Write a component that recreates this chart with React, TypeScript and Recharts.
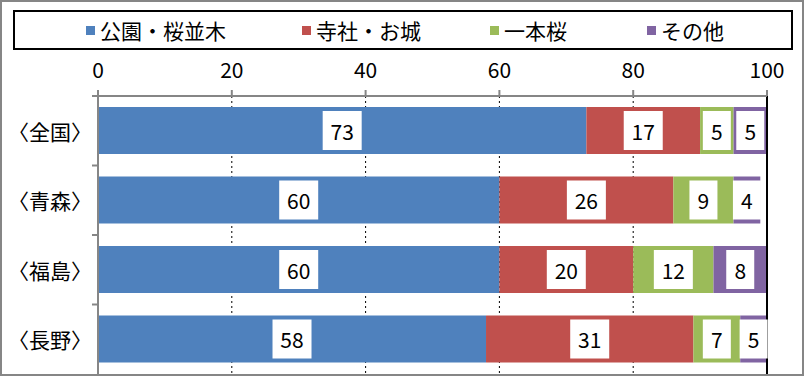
import React from 'react';
import { BarChart, Bar, XAxis, YAxis, CartesianGrid, Legend, LabelList, ReferenceLine } from 'recharts';

// 花見スポットの種類別割合（%）
const regions = ['〈全国〉', '〈青森〉', '〈福島〉', '〈長野〉'];
const parks = [73, 60, 60, 58];
const temples = [17, 26, 20, 31];
const singleTrees = [5, 9, 12, 7];
const others = [5, 4, 8, 5];
const xTicks = [0, 20, 40, 60, 80, 100];

const SERIES = [
  { key: 'parks', name: '公園・桜並木', color: '#4F81BD' },
  { key: 'temples', name: '寺社・お城', color: '#C0504D' },
  { key: 'singleTrees', name: '一本桜', color: '#9BBB59' },
  { key: 'others', name: 'その他', color: '#8064A2' }
];

const data = regions.map((region, i) => ({
  region,
  parks: parks[i],
  temples: temples[i],
  singleTrees: singleTrees[i],
  others: others[i]
}));

const FONT = '"Noto Sans CJK JP", "Noto Sans", sans-serif';
const AXIS_GRAY = '#868686';
const CHART_W = 805;
const CHART_H = 376;
const MARGIN = { top: 56, right: 38, bottom: 2, left: 0 };
const X_AXIS_H = 40;
const BAND = (CHART_H - MARGIN.top - MARGIN.bottom - X_AXIS_H) / regions.length;

// legend square positions (page x)
const LEGEND_X = [86, 302, 490, 647];

const LegendBox = () => (
  <div
    style={{
      position: 'relative',
      width: 780,
      height: 40,
      border: '2px solid #000',
      boxSizing: 'border-box',
      background: '#fff',
      fontFamily: FONT
    }}
  >
    {SERIES.map((s, i) => (
      <div
        key={s.key}
        style={{
          position: 'absolute',
          left: LEGEND_X[i] - 15,
          top: 0,
          height: 36,
          display: 'flex',
          alignItems: 'center'
        }}
      >
        <span style={{ display: 'inline-block', width: 9, height: 9, background: s.color, marginRight: 5 }} />
        <span style={{ fontSize: 21, lineHeight: '36px', color: '#000', whiteSpace: 'nowrap' }}>{s.name}</span>
      </div>
    ))}
  </div>
);

const RegionTick = (props: any) => {
  const { x, y, payload } = props;
  return (
    <g>
      <line x1={x - 6} y1={y - BAND / 2} x2={x} y2={y - BAND / 2} stroke={AXIS_GRAY} strokeWidth={2} />
      <text
        x={x - 6}
        y={y}
        textAnchor="end"
        dominantBaseline="central"
        fontSize={21}
        fontFamily={FONT}
        fill="#000"
      >
        {payload.value}
      </text>
    </g>
  );
};

const BoxLabel = (props: any) => {
  const { x, y, width, height, value } = props;
  const w = 17 + String(value).length * 11;
  const h = height - 8;
  const cx = x + width / 2;
  const cy = y + height / 2;
  return (
    <g>
      <rect x={cx - w / 2} y={cy - h / 2} width={w} height={h} fill="#fff" />
      <text
        x={cx}
        y={cy}
        textAnchor="middle"
        dominantBaseline="central"
        fontSize={21}
        fontFamily={FONT}
        fill="#000"
      >
        {value}
      </text>
    </g>
  );
};

const App = () => {
  return (
    <div
      style={{
        position: 'absolute',
        left: 0,
        top: 0,
        width: 804,
        height: CHART_H,
        border: `2px solid ${AXIS_GRAY}`,
        boxSizing: 'border-box',
        background: '#fff',
        fontFamily: FONT
      }}
    >
      <div style={{ position: 'absolute', left: -2, top: -2 }}>
        <BarChart width={CHART_W} height={CHART_H} data={data} layout="vertical" margin={MARGIN}>
          <CartesianGrid horizontal={false} stroke="#000" strokeDasharray="2 3" />
          <XAxis
            type="number"
            orientation="top"
            domain={[0, 100]}
            ticks={xTicks}
            allowDataOverflow
            height={X_AXIS_H}
            stroke={AXIS_GRAY}
            strokeWidth={2}
            tickSize={6}
            tickMargin={12}
            tick={{ fill: '#000', fontSize: 21, fontFamily: FONT }}
          />
          <YAxis
            type="category"
            dataKey="region"
            width={98}
            stroke={AXIS_GRAY}
            strokeWidth={2}
            tickLine={false}
            tickSize={0}
            tickMargin={0}
            tick={<RegionTick />}
          />
          <Legend
            layout="horizontal"
            verticalAlign="middle"
            align="center"
            wrapperStyle={{ left: 13, top: 10, width: 780, height: 40 }}
            content={<LegendBox />}
          />
          {SERIES.map((s) => (
            <Bar key={s.key} dataKey={s.key} name={s.name} stackId="a" fill={s.color} barSize={47} isAnimationActive={false}>
              <LabelList dataKey={s.key} content={<BoxLabel />} />
            </Bar>
          ))}
          <ReferenceLine x={100} stroke="#000" strokeWidth={2} />
        </BarChart>
      </div>
    </div>
  );
};

export default App;
